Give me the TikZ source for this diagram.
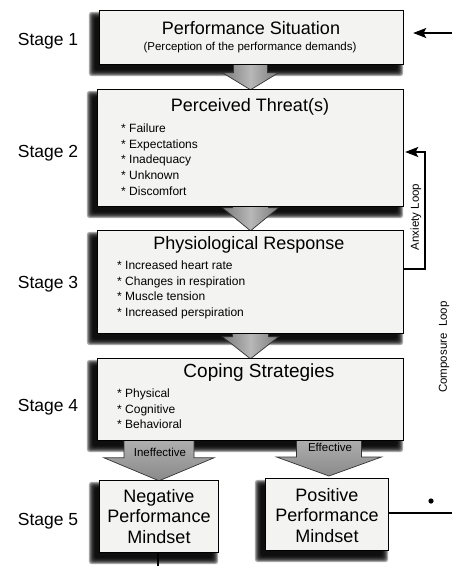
\documentclass[tikz,border=0pt]{standalone}
\usepackage{fontspec}
\setmainfont{Liberation Sans}
\usetikzlibrary{calc,arrows.meta}

\definecolor{paper}{HTML}{F3F3F1}
\newcommand\setfs[2]{\fontsize{#1}{#2}\selectfont}

% soft drop shadow below and to the left of a box
\newcommand\softshadow[1]{%
  \foreach \g in {6,5,...,0}{%
    \fill[black,opacity=0.33,rounded corners=3pt]
      ($(#1.south west)+(-5-\g,6+\g)$) rectangle ($(#1.north east)+(-6+\g,7-\g)$);
  }}

% downward block arrow: tip, shaft half-width, head half-width, head length, total length
\newcommand\downblock[6][]{%
  \path[blockarrow,#1] ($(#2)+(-#3,-#6)$) -- ($(#2)+(-#3,-#5)$) -- ($(#2)+(-#4,-#5)$)
    -- (#2) -- ($(#2)+(#4,-#5)$) -- ($(#2)+(#3,-#5)$) -- ($(#2)+(#3,-#6)$) -- cycle;}

\begin{document}
\begin{tikzpicture}[x=1pt,y=-1pt,
  box/.style={draw=black,line width=0.9pt,fill=paper,inner sep=0pt},
  title/.style={font=\setfs{18}{20},inner sep=0pt},
  subtitle/.style={font=\setfs{11.5}{14},inner sep=0pt},
  items/.style={font=\setfs{12}{15.7},align=left,anchor=west,inner sep=0pt},
  stagelbl/.style={font=\setfs{17.5}{20},inner sep=0pt},
  mindset/.style={font=\setfs{18}{20.5},align=center,inner sep=0pt},
  arrowlbl/.style={font=\setfs{11.5}{13},inner sep=0pt},
  looplbl/.style={font=\setfs{11.5}{13},inner sep=0pt,rotate=90},
  blockarrow/.style={draw=black!80,line width=0.7pt,left color=black!52,right color=black!52,middle color=black!28},
  branch/.style={draw=black!80,line width=0.7pt,top color=black!30,bottom color=black!46},
  loopline/.style={draw=black,line width=1.2pt},
  tip/.style={-{Stealth[length=13pt,width=10pt,inset=2.5pt]}}
]
\useasboundingbox (0,0) rectangle (452,566);

% box outlines (placed first so that the arrows can refer to them)
\path
  node[minimum width=303pt,minimum height=53pt] (b1) at (251.5,37.5) {}
  node[minimum width=305pt,minimum height=116pt] (b2) at (250.5,148) {}
  node[minimum width=305pt,minimum height=102pt] (b3) at (250.5,282) {}
  node[minimum width=305pt,minimum height=81pt] (b4) at (250.5,399.5) {}
  node[minimum width=118pt,minimum height=71pt] (nb) at (159,516.5) {}
  node[minimum width=122pt,minimum height=71pt] (pb) at (327,514.5) {};

\coordinate (etip) at (329,476);

% shadows
\foreach \b in {b1,b2,b3,b4,nb,pb}{\softshadow{\b}}

% block arrows between the stages
\downblock{b2.north}{17}{28}{17}{30}
\downblock{b3.north}{18}{28}{23}{28}
\downblock{b4.north}{18}{28}{22}{30}
\downblock[branch]{nb.north}{35}{55}{23}{45}
\downblock[branch]{etip}{32.5}{52.5}{19}{40}

% box faces
\foreach \b in {b1,b2,b3,b4,nb,pb}{
  \draw[box] (\b.south west) rectangle (\b.north east);
}

% stage labels
\node[stagelbl] (s1) at (48,41) {Stage 1};
\node[stagelbl] (s2) at (48,153) {Stage 2};
\node[stagelbl] (s3) at (48,284) {Stage 3};
\node[stagelbl] (s4) at (48,407) {Stage 4};
\node[stagelbl] (s5) at (48,521) {Stage 5};

% box contents
\node[title] (t1) at (251,28) {Performance Situation};
\node[subtitle] (t1s) at (250,48) {(Perception of the performance demands)};

\node[title] (t2) at (250,107) {Perceived Threat(s)};
\node[items] (l2) at (121,159.5) {* Failure\\* Expectations\\* Inadequacy\\* Unknown\\* Discomfort};

\node[title] (t3) at (249,245) {Physiological Response};
\node[items] (l3) at (117,290) {* Increased heart rate\\* Changes in respiration\\* Muscle tension\\* Increased perspiration};

\node[title,font=\setfs{19}{21}] (t4) at (259,373) {Coping Strategies};
\node[items] (l4) at (117,409) {* Physical\\* Cognitive\\* Behavioral};

\node[arrowlbl] (ineff) at (160,452) {Ineffective};
\node[arrowlbl] (eff) at (330,447) {Effective};

\node[mindset] (nt) at (nb) {Negative\\Performance\\Mindset};
\node[mindset] (pt) at ([yshift=-1pt]pb.center) {Positive\\Performance\\Mindset};

% feedback loops
\coordinate (cin) at (452,33);
\draw[loopline,tip,shorten >=10pt] (cin) -- (b1.east |- cin);

\coordinate (a1) at (425,269);
\coordinate (a2) at (425,152);
\draw[loopline,tip,shorten >=2pt] (b3.east |- a1) -- (a1) -- (a2) -- (b2.east |- a2);
\node[looplbl] (anx) at (416,217) {Anxiety Loop};

\node[looplbl] (comp) at (444,347) {Composure\ \ Loop};

\fill (431,501) circle (2.6pt);
\coordinate (pend) at (452,513);
\draw[loopline] (pb.east |- pend) -- (pend);
\coordinate (nend) at (158,566);
\draw[loopline] (nb.south -| nend) -- (nend);
\end{tikzpicture}
\end{document}
